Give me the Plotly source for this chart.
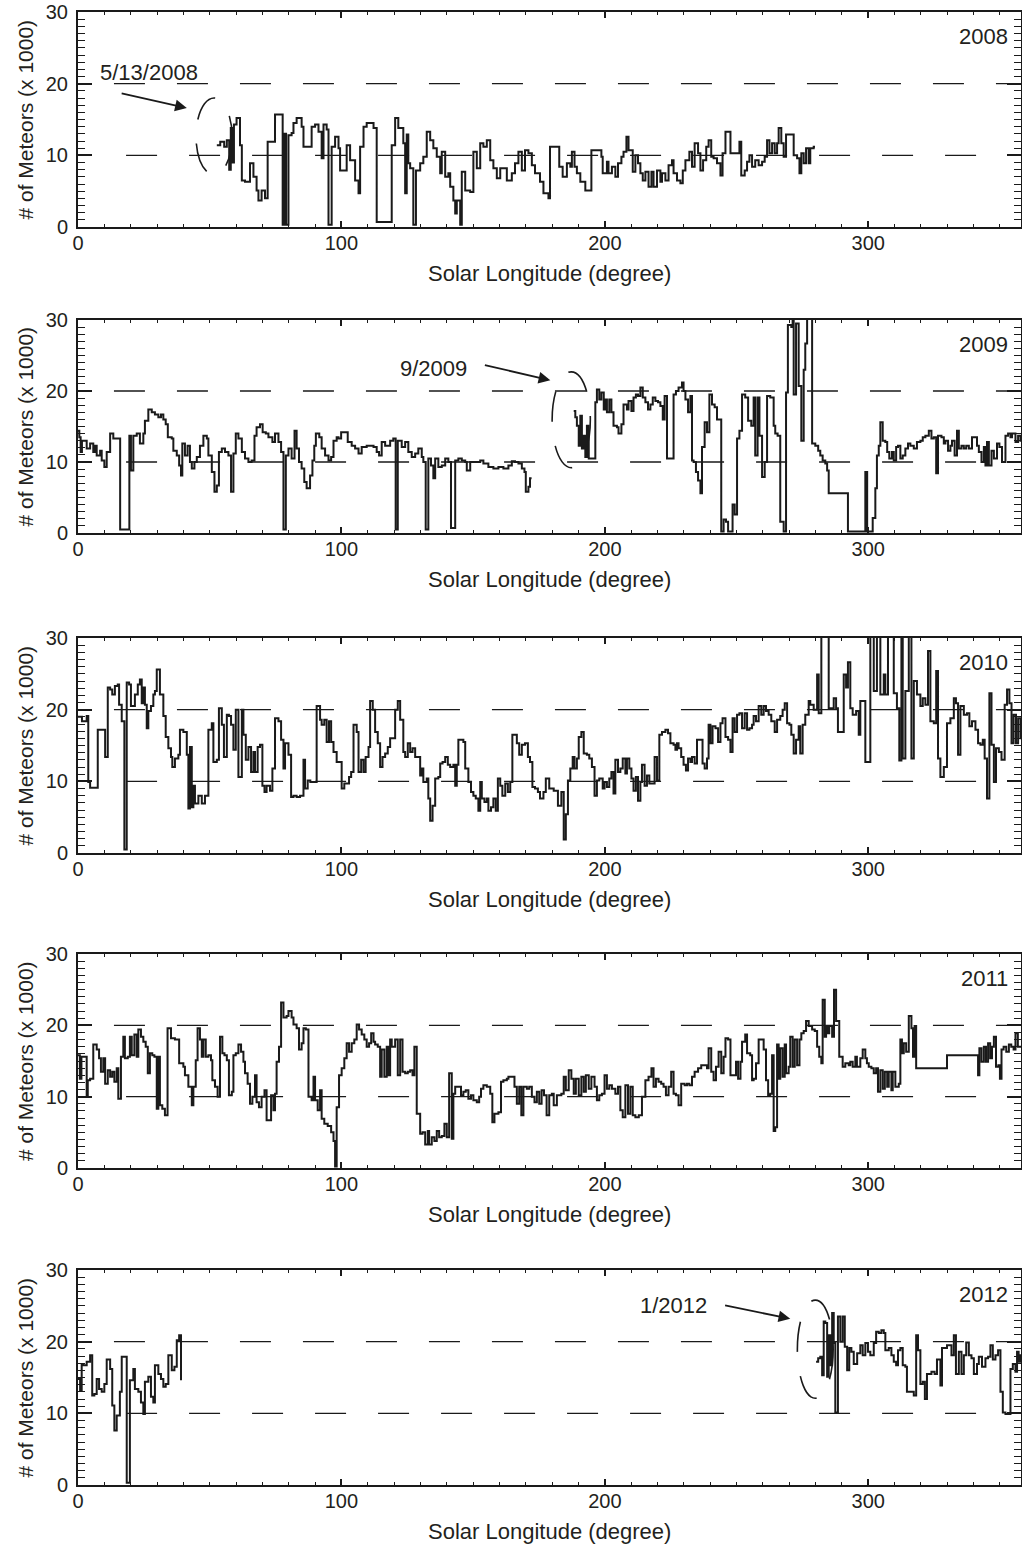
import plotly.graph_objects as go

# ---------------- data (solar longitude [deg], meteors x1000) ----------------
data_2008 = [
    (52.7, 11.4), (54.0, 11.9), (55.5, 11.2), (56.5, 12.1), (57.4, 8.0), (58.0, 13.8), (58.6, 9.0),
    (59.2, 14.3), (60.2, 15.2), (61.5, 11.4), (62.2, 6.5), (63.4, 6.3), (65.3, 8.9), (66.6, 7.0),
    (67.8, 5.1), (68.5, 3.7), (69.7, 5.1), (71.0, 4.0), (72.0, 11.9), (74.8, 15.7), (77.7, 0.3),
    (78.4, 13.0), (79.0, 0.3), (79.9, 12.8), (81.1, 13.1), (81.8, 14.5), (83.0, 15.2), (84.9, 14.0),
    (85.6, 11.2), (88.7, 14.0), (90.0, 14.3), (91.3, 13.3), (92.5, 9.6), (93.2, 14.3), (94.4, 13.6),
    (95.1, 0.3), (96.3, 11.2), (97.6, 12.6), (98.9, 11.0), (99.5, 7.9), (102.0, 11.4), (103.3, 9.3),
    (105.2, 6.5), (106.5, 4.7), (107.1, 11.2), (108.4, 14.0), (109.6, 14.5), (112.2, 13.8), (113.4, 0.7),
    (119.1, 11.4), (120.4, 15.2), (121.6, 13.8), (123.5, 11.7), (124.2, 4.7), (124.8, 12.9), (125.4, 8.9),
    (126.1, 8.2), (127.3, 0.3), (128.3, 7.9), (129.9, 8.9), (131.1, 9.8), (132.4, 13.3), (133.7, 12.1),
    (134.9, 11.0), (136.2, 9.8), (137.5, 7.5), (138.1, 10.5), (139.4, 7.0), (140.6, 7.5), (141.3, 5.6),
    (142.5, 3.7), (143.2, 1.9), (143.8, 3.7), (145.1, 0.3), (145.7, 7.7), (147.0, 5.1), (148.9, 4.9),
    (150.1, 10.5), (151.4, 8.2), (152.7, 11.7), (153.9, 11.2), (155.2, 12.1), (156.5, 9.3), (157.7, 8.2),
    (159.0, 6.8), (160.3, 8.2), (162.8, 6.5), (164.7, 7.5), (165.9, 8.9), (167.2, 10.5), (168.5, 7.9),
    (169.7, 10.7), (171.0, 10.3), (172.3, 8.6), (173.5, 7.5), (175.4, 6.3), (176.7, 4.7), (178.6, 4.0),
    (179.2, 11.2), (182.7, 8.4), (184.0, 7.0), (185.6, 8.9), (186.9, 8.4), (187.5, 10.5), (188.5, 8.4),
    (189.4, 7.5), (190.7, 6.3), (192.6, 5.1), (194.9, 10.7), (198.7, 9.8), (199.2, 7.5), (200.8, 9.1),
    (201.4, 7.5), (202.7, 8.4), (204.0, 7.0), (205.0, 8.9), (206.3, 9.8), (207.1, 10.5), (208.2, 12.6),
    (209.0, 10.7), (210.6, 7.7), (211.6, 10.0), (212.6, 8.9), (213.5, 7.5), (214.4, 6.5), (215.4, 7.7),
    (216.6, 5.6), (217.7, 7.7), (218.5, 5.6), (219.8, 7.9), (221.1, 6.3), (221.7, 7.5), (223.0, 6.5),
    (224.2, 8.6), (225.5, 9.3), (226.1, 7.5), (227.4, 6.5), (228.7, 6.1), (229.6, 7.9), (230.6, 9.3),
    (232.1, 10.5), (233.1, 8.4), (234.1, 11.7), (235.4, 10.3), (236.3, 7.9), (237.3, 9.3), (238.5, 11.2),
    (239.4, 12.1), (240.4, 9.8), (241.3, 9.6), (242.6, 8.9), (243.9, 7.2), (244.7, 10.3), (245.8, 13.3),
    (247.7, 10.3), (251.1, 11.9), (251.8, 7.2), (253.1, 7.9), (254.0, 9.1), (254.9, 10.0), (255.9, 8.4),
    (257.1, 9.3), (258.4, 8.6), (259.7, 9.1), (260.7, 9.8), (261.6, 12.1), (262.5, 10.3), (263.5, 11.7),
    (264.5, 10.3), (265.4, 11.7), (266.0, 13.8), (267.0, 11.7), (267.9, 9.8), (268.8, 12.9), (271.7, 10.0),
    (273.0, 9.6), (273.9, 7.5), (274.6, 10.3), (275.5, 8.9), (276.4, 11.0), (277.4, 8.9), (278.0, 11.0),
    (279.3, 11.2), (279.8, 11.2),
]

data_2009 = [
    (0.0, 14.4), (0.5, 13.5), (1.0, 11.4), (1.5, 13.0), (2.0, 13.0), (3.3, 11.9), (4.6, 12.6), (5.8, 11.4),
    (6.5, 12.3), (7.1, 10.9), (8.4, 11.6), (9.0, 10.2), (10.0, 9.3), (10.9, 11.4), (12.2, 14.0), (13.4, 13.3),
    (16.0, 0.5), (19.5, 13.7), (20.1, 8.8), (21.0, 13.7), (22.3, 14.0), (23.5, 12.6), (24.8, 14.0), (25.4, 15.8),
    (26.7, 17.4), (28.0, 17.0), (29.2, 16.7), (30.5, 16.3), (31.5, 16.7), (32.4, 16.0), (33.3, 15.3), (34.1, 13.5),
    (35.6, 13.3), (36.2, 11.6), (37.5, 10.9), (38.4, 9.5), (39.1, 8.1), (39.6, 12.6), (40.6, 10.9), (41.6, 12.3),
    (42.5, 10.0), (43.2, 9.1), (44.2, 10.0), (45.1, 10.7), (46.3, 12.3), (47.6, 13.7), (48.9, 13.3), (49.5, 10.9),
    (50.8, 8.6), (51.8, 5.8), (52.7, 6.7), (53.5, 11.4), (54.6, 11.9), (55.8, 11.4), (57.1, 10.9), (58.1, 5.8),
    (59.0, 11.2), (59.9, 14.0), (60.9, 13.3), (62.2, 11.4), (63.4, 10.5), (64.7, 10.0), (65.9, 10.2), (67.0, 13.7),
    (67.8, 14.9), (69.1, 15.3), (70.1, 14.2), (71.3, 14.0), (72.3, 13.5), (73.8, 12.8), (74.8, 14.0), (76.1, 12.8),
    (77.1, 11.4), (78.0, 0.5), (78.9, 10.9), (79.9, 11.9), (81.1, 10.5), (82.2, 14.4), (83.0, 11.9), (83.9, 10.0),
    (84.9, 9.1), (85.9, 7.2), (86.8, 6.3), (88.1, 8.1), (89.0, 10.2), (89.7, 12.3), (90.3, 14.0), (91.6, 13.5),
    (92.5, 11.9), (93.8, 10.9), (95.1, 10.2), (96.1, 10.7), (97.0, 13.0), (98.2, 13.5), (98.9, 13.3), (99.9, 14.2),
    (101.1, 14.2), (102.4, 12.8), (103.9, 12.3), (105.2, 11.9), (106.5, 11.2), (107.7, 12.1), (109.6, 12.3),
    (112.2, 12.1), (113.4, 11.4), (114.3, 10.9), (115.3, 12.8), (116.6, 12.3), (118.5, 13.0), (119.7, 13.3),
    (120.6, 0.5), (121.4, 13.0), (122.9, 12.1), (124.2, 12.8), (125.4, 11.4), (126.7, 10.7), (128.0, 11.2),
    (129.2, 11.9), (130.5, 10.7), (131.1, 10.0), (132.0, 0.5), (133.0, 10.5), (134.0, 9.5), (134.9, 7.7),
    (135.6, 10.5), (136.8, 9.3), (138.1, 9.5), (139.4, 10.5), (140.6, 10.0), (141.6, 0.7), (143.2, 10.2),
    (144.4, 10.5), (145.7, 10.2), (147.0, 10.0), (147.6, 8.8), (148.9, 10.0), (150.8, 10.0), (152.7, 10.2),
    (153.9, 9.8), (155.8, 9.3), (157.7, 9.1), (159.6, 9.3), (161.5, 9.1), (163.4, 9.5), (164.7, 10.1),
    (165.9, 10.0), (167.2, 9.8), (168.5, 9.1), (169.5, 8.6), (170.0, 5.8), (171.0, 6.5), (171.6, 7.7),
    (172.2, 7.7), (172.4, None),
    (188.2, 17.2), (188.8, 16.3), (189.4, 15.1), (190.1, 12.3), (190.7, 16.5), (191.3, 11.9), (192.0, 13.7),
    (192.6, 10.7), (193.2, 15.1), (193.9, 10.5), (196.4, 18.4), (197.0, 20.2), (197.9, 18.8), (198.7, 19.8),
    (199.6, 17.4), (200.2, 18.8), (200.8, 17.0), (201.7, 18.8), (202.5, 17.0), (203.3, 15.1), (204.6, 14.9),
    (205.2, 14.0), (206.3, 15.3), (207.1, 18.1), (208.4, 17.4), (209.0, 18.6), (210.1, 17.2), (210.9, 19.1),
    (211.8, 19.5), (212.6, 19.3), (213.5, 20.5), (214.4, 19.1), (215.4, 18.4), (216.4, 17.4), (217.3, 18.1),
    (218.2, 19.1), (219.2, 18.6), (220.2, 18.4), (221.1, 17.9), (222.0, 16.0), (222.7, 19.3), (223.6, 10.5),
    (226.1, 19.5), (227.0, 20.0), (228.0, 20.5), (229.3, 21.2), (229.9, 20.0), (230.6, 18.8), (231.6, 17.0),
    (232.5, 19.3), (233.1, 10.2), (233.7, 10.0), (234.6, 8.6), (235.4, 7.4), (236.3, 5.6), (236.9, 12.1),
    (237.9, 15.6), (238.8, 14.2), (239.7, 19.5), (240.7, 18.1), (241.7, 17.7), (242.6, 16.0), (244.2, 0.2),
    (245.1, 1.9), (246.0, 1.6), (246.8, 0.2), (248.5, 4.0), (249.3, 2.6), (250.2, 13.3), (251.1, 14.4),
    (252.1, 19.5), (253.3, 19.1), (254.4, 15.8), (255.6, 15.1), (256.5, 19.1), (257.1, 10.9), (258.0, 19.1),
    (258.7, 13.7), (259.7, 7.9), (260.7, 10.0), (261.6, 19.3), (262.8, 19.1), (264.1, 15.1), (264.7, 14.0),
    (265.6, 13.7), (266.6, 1.6), (267.9, 0.2), (268.8, 19.8), (269.5, 29.3), (270.8, 29.0), (271.3, 31.0),
    (271.7, 19.5), (272.6, 29.5), (273.6, 20.7), (274.6, 13.0), (275.5, 23.0), (276.1, 26.7), (276.8, 31.0),
    (278.7, 12.6), (279.9, 12.3), (281.0, 11.6), (281.8, 10.9), (282.7, 10.2), (283.7, 9.8), (284.4, 8.8),
    (285.0, 5.6), (292.3, 0.2), (298.9, 8.6), (299.6, 0.2), (301.7, 2.1), (302.7, 6.3), (303.3, 10.9),
    (304.0, 12.3), (304.6, 15.6), (305.5, 13.0), (306.5, 12.8), (307.2, 11.4), (308.0, 10.5), (309.0, 11.4),
    (309.7, 10.2), (310.6, 12.1), (311.3, 12.3), (312.2, 10.5), (313.1, 10.9), (314.1, 11.9), (315.1, 12.6),
    (316.0, 12.3), (317.3, 11.9), (318.5, 12.8), (319.8, 13.0), (320.7, 13.5), (321.7, 13.7), (323.0, 14.4),
    (324.0, 13.3), (324.9, 13.5), (325.8, 8.4), (326.5, 13.7), (327.8, 13.5), (328.7, 12.6), (329.3, 13.0),
    (330.3, 11.6), (331.2, 12.3), (331.8, 13.0), (332.8, 10.9), (333.7, 14.4), (334.4, 11.9), (335.4, 12.3),
    (336.3, 11.9), (337.2, 12.3), (338.2, 11.9), (339.4, 13.5), (340.4, 13.5), (341.3, 12.3), (342.0, 11.4),
    (343.0, 10.0), (343.9, 12.1), (344.5, 9.5), (345.1, 12.8), (345.8, 9.5), (346.8, 11.6), (347.7, 10.5),
    (348.9, 12.6), (349.8, 12.1), (350.8, 10.0), (352.1, 13.7), (353.1, 14.0), (354.0, 13.5), (354.6, 14.0),
    (355.9, 12.8), (356.9, 13.7), (357.8, 13.0), (360.0, 13.0),
]

data_2010 = [
    (0.0, 19.0), (1.5, 18.4), (3.3, 19.1), (3.9, 9.9), (4.6, 9.1), (7.5, 17.2), (10.3, 13.4), (11.3, 23.1),
    (12.2, 22.8), (13.0, 22.1), (14.0, 23.3), (15.1, 23.5), (15.6, 20.7), (16.6, 18.4), (17.6, 0.5), (18.5, 23.8),
    (19.4, 23.5), (20.1, 20.5), (21.6, 22.1), (22.7, 23.5), (23.5, 24.2), (24.2, 20.9), (24.8, 23.1), (25.4, 20.7),
    (26.1, 17.4), (26.7, 19.8), (27.7, 20.5), (28.6, 22.1), (29.2, 22.6), (29.9, 25.6), (31.1, 22.1), (32.4, 19.1),
    (33.3, 16.2), (34.3, 14.6), (35.3, 13.4), (35.8, 12.0), (36.8, 13.2), (38.1, 13.7), (38.7, 17.2), (40.0, 16.9),
    (41.3, 13.7), (41.9, 6.2), (42.5, 14.8), (43.2, 6.4), (43.8, 9.4), (44.4, 6.9), (45.7, 8.0), (47.0, 6.9),
    (48.2, 8.0), (49.5, 17.2), (50.8, 18.1), (51.4, 12.7), (52.7, 13.0), (53.5, 20.2), (54.6, 17.9), (55.4, 13.4),
    (56.5, 19.3), (57.3, 19.1), (58.1, 17.9), (59.0, 14.4), (59.9, 20.0), (60.9, 10.6), (62.2, 20.0), (62.8, 16.5),
    (63.7, 13.0), (64.7, 14.8), (65.7, 11.3), (66.6, 14.1), (67.2, 11.3), (68.2, 14.8), (69.1, 15.1), (70.0, 9.4),
    (70.8, 8.5), (71.6, 9.4), (72.9, 8.7), (73.8, 11.8), (74.8, 18.8), (76.1, 18.4), (77.1, 15.8), (78.0, 11.8),
    (78.6, 15.3), (79.9, 13.7), (80.9, 7.8), (81.8, 8.0), (83.0, 7.8), (84.3, 8.0), (85.6, 13.0), (86.2, 9.0),
    (87.2, 10.1), (88.2, 9.9), (90.6, 20.5), (91.9, 18.6), (92.5, 17.9), (93.5, 18.6), (94.4, 15.5), (95.3, 18.4),
    (96.1, 15.5), (97.0, 14.1), (98.2, 12.7), (100.1, 9.0), (101.1, 9.7), (102.9, 10.6), (103.7, 11.3),
    (104.6, 17.9), (105.8, 16.9), (106.5, 11.3), (107.5, 13.0), (108.4, 11.3), (109.2, 13.4), (110.3, 14.8),
    (110.9, 21.2), (111.9, 20.0), (112.8, 16.9), (113.8, 15.3), (114.7, 12.0), (115.6, 13.4), (116.6, 13.9),
    (117.6, 14.8), (118.5, 16.0), (120.4, 20.0), (121.4, 21.2), (122.3, 18.6), (123.5, 14.1), (124.2, 13.4),
    (125.2, 15.3), (126.1, 14.1), (127.0, 14.6), (128.0, 13.4), (129.9, 10.8), (130.5, 11.8), (131.1, 9.9),
    (132.4, 10.4), (133.0, 7.6), (133.7, 4.5), (134.6, 6.6), (135.6, 10.4), (136.8, 10.6), (137.5, 12.5),
    (138.4, 12.7), (139.4, 13.4), (140.4, 12.3), (141.3, 12.0), (142.5, 12.3), (143.2, 9.4), (143.8, 12.3),
    (144.4, 15.8), (146.3, 15.5), (147.0, 11.8), (148.2, 9.9), (149.2, 8.5), (150.1, 8.0), (151.0, 7.6),
    (152.0, 5.9), (152.7, 9.9), (153.3, 7.6), (154.3, 7.1), (155.2, 7.6), (155.8, 5.9), (156.8, 6.4),
    (157.7, 7.6), (158.6, 5.9), (159.4, 10.4), (160.3, 9.4), (161.1, 8.0), (162.2, 9.7), (163.2, 8.5),
    (164.1, 9.9), (164.9, 16.5), (166.6, 15.3), (167.5, 13.7), (168.5, 15.1), (169.7, 15.3), (170.8, 13.4),
    (171.6, 12.7), (172.5, 9.2), (173.5, 9.0), (174.6, 8.5), (175.4, 7.6), (176.7, 8.5), (177.6, 10.4),
    (178.9, 9.0), (180.6, 8.7), (182.2, 6.6), (183.5, 8.5), (184.4, 1.9), (185.2, 5.4), (186.0, 10.1),
    (186.9, 11.8), (187.8, 13.4), (188.5, 11.8), (189.4, 13.2), (190.1, 16.2), (191.1, 16.9), (192.0, 13.9),
    (193.2, 13.7), (194.1, 13.2), (195.1, 12.0), (196.1, 8.0), (197.0, 10.1), (197.9, 10.4), (199.2, 9.0),
    (199.9, 9.9), (200.8, 9.2), (201.7, 10.4), (202.5, 11.3), (203.3, 8.3), (204.0, 13.0), (205.0, 11.3),
    (205.9, 11.8), (206.8, 13.2), (207.8, 11.1), (208.4, 13.2), (209.3, 11.8), (210.1, 10.4), (210.9, 8.7),
    (211.8, 10.6), (212.6, 7.3), (213.5, 9.9), (214.1, 12.3), (215.1, 9.4), (216.0, 10.8), (216.9, 9.7),
    (217.9, 9.7), (218.9, 13.4), (219.8, 10.1), (220.7, 16.5), (221.7, 16.9), (223.0, 17.2), (224.0, 16.7),
    (224.9, 15.3), (226.1, 15.1), (226.8, 14.4), (227.4, 15.3), (228.0, 14.6), (229.0, 13.4), (229.9, 12.3),
    (230.8, 11.5), (231.6, 13.2), (232.5, 12.7), (233.1, 13.4), (234.1, 12.5), (235.0, 15.8), (236.3, 15.8),
    (237.1, 12.5), (237.9, 11.8), (238.8, 13.2), (239.4, 17.9), (240.1, 15.3), (240.9, 17.7), (242.0, 17.4),
    (243.0, 15.5), (243.9, 18.1), (244.7, 18.8), (245.8, 16.2), (246.8, 15.8), (247.7, 14.1), (248.5, 18.8),
    (249.3, 16.9), (250.2, 19.3), (251.1, 19.5), (252.1, 17.4), (253.1, 19.5), (254.0, 17.2), (254.9, 17.4),
    (255.9, 17.9), (256.5, 19.1), (257.4, 18.4), (258.4, 20.5), (259.4, 19.3), (260.3, 20.5), (261.2, 19.8),
    (262.2, 19.3), (263.2, 18.4), (264.5, 16.9), (265.4, 18.6), (266.6, 19.1), (267.5, 20.0), (268.3, 20.9),
    (269.2, 18.1), (270.1, 17.9), (270.8, 16.5), (271.7, 13.9), (272.6, 15.8), (273.6, 17.7), (274.2, 13.9),
    (275.1, 17.9), (276.1, 19.3), (277.4, 21.2), (278.0, 20.7), (279.3, 20.0), (280.6, 24.9), (281.2, 19.5),
    (282.2, 31.0), (283.7, 31.0), (285.0, 20.2), (286.9, 21.6), (287.8, 20.2), (288.5, 16.9), (290.1, 16.9),
    (290.7, 24.9), (291.6, 23.1), (292.3, 26.6), (293.2, 20.2), (294.1, 19.3), (295.4, 19.8), (296.4, 16.5),
    (297.0, 21.2), (298.3, 21.2), (298.9, 12.7), (299.9, 12.7), (300.8, 31.0), (302.1, 22.6), (303.3, 31.0),
    (304.6, 22.1), (305.9, 24.9), (306.5, 22.1), (307.5, 31.0), (309.0, 31.0), (309.7, 22.3), (310.9, 20.2),
    (311.8, 12.9), (312.6, 31.0), (313.1, 13.2), (314.1, 22.6), (315.4, 31.0), (316.4, 13.2), (317.3, 24.0),
    (318.5, 22.1), (319.8, 20.5), (320.7, 21.6), (321.7, 20.7), (322.7, 28.2), (323.6, 18.4), (324.9, 18.1),
    (325.8, 25.4), (326.5, 13.2), (327.4, 10.6), (328.7, 12.0), (329.9, 18.1), (331.2, 18.8), (332.5, 21.6),
    (333.3, 20.9), (334.1, 13.7), (335.0, 20.5), (336.3, 19.3), (337.5, 19.5), (338.4, 17.7), (339.4, 18.4),
    (340.7, 17.2), (341.7, 15.3), (342.6, 15.1), (343.5, 15.8), (344.2, 13.2), (345.1, 7.6), (346.0, 22.3),
    (346.8, 15.1), (347.7, 9.9), (348.5, 14.6), (349.6, 14.1), (350.6, 13.0), (351.8, 20.7), (352.7, 22.8),
    (353.6, 20.9), (354.4, 15.3), (355.2, 19.3), (356.1, 15.3), (356.9, 18.8), (357.8, 16.0), (360.0, 16.0),
]

data_2011 = [
    (0.0, 15.8), (0.7, 12.5), (1.3, 15.6), (2.0, 15.6), (3.3, 10.0), (3.7, 12.3), (4.6, 12.5), (5.8, 17.3),
    (7.1, 16.6), (8.0, 15.4), (8.7, 13.5), (9.6, 15.4), (10.3, 11.8), (11.3, 13.7), (12.2, 12.8), (13.0, 13.5),
    (13.8, 12.1), (14.7, 14.0), (15.3, 9.7), (16.3, 15.6), (17.2, 18.4), (17.8, 15.4), (18.9, 15.6), (19.7, 18.4),
    (20.4, 15.8), (21.4, 18.7), (22.3, 15.6), (22.9, 19.4), (23.9, 18.4), (24.8, 17.7), (25.7, 17.0), (26.5, 13.3),
    (27.3, 16.1), (28.2, 15.8), (29.0, 15.6), (29.9, 8.3), (30.5, 15.6), (31.1, 8.8), (32.0, 8.3), (33.0, 7.4),
    (34.0, 19.6), (35.3, 18.2), (36.8, 18.0), (38.4, 14.7), (40.0, 14.2), (40.6, 13.0), (41.9, 11.4), (43.2, 8.8),
    (43.8, 11.4), (44.7, 15.1), (45.4, 19.6), (46.3, 18.0), (47.0, 15.6), (47.6, 18.0), (48.5, 15.6), (49.5, 15.8),
    (50.5, 15.1), (51.0, 12.3), (52.0, 11.4), (53.0, 10.0), (53.9, 18.4), (54.8, 16.1), (55.6, 15.8), (56.5, 15.1),
    (57.3, 10.2), (58.4, 10.7), (59.0, 15.8), (59.9, 16.1), (60.9, 17.3), (61.9, 16.3), (62.8, 14.9), (63.4, 13.3),
    (64.4, 11.8), (65.3, 9.0), (66.2, 10.0), (67.2, 13.0), (67.8, 9.2), (68.7, 8.5), (69.7, 10.0), (70.8, 10.9),
    (71.6, 6.7), (73.3, 10.2), (74.2, 8.1), (74.8, 10.4), (75.4, 14.9), (76.3, 17.0), (77.1, 23.2), (78.0, 21.1),
    (79.2, 21.3), (79.9, 22.0), (81.1, 21.1), (81.8, 20.1), (83.0, 19.6), (83.9, 16.6), (84.9, 17.5), (85.6, 19.6),
    (86.5, 19.4), (87.5, 10.0), (88.7, 9.5), (89.4, 12.8), (90.0, 9.5), (91.0, 8.1), (91.9, 10.9), (92.5, 6.9),
    (93.5, 6.2), (94.8, 5.9), (96.1, 5.0), (97.0, 3.8), (97.6, 0.2), (98.2, 8.5), (99.1, 13.0), (100.1, 14.0),
    (101.1, 15.4), (102.0, 17.5), (102.9, 16.3), (103.9, 17.5), (104.9, 18.0), (105.8, 20.1), (106.7, 19.4),
    (107.7, 18.7), (108.7, 18.0), (109.6, 17.0), (110.5, 17.5), (111.3, 18.9), (112.2, 17.7), (112.8, 17.3),
    (113.8, 17.0), (114.7, 12.8), (115.3, 16.6), (116.3, 12.8), (117.2, 17.0), (117.8, 13.0), (118.5, 18.0),
    (119.1, 17.0), (120.4, 18.0), (121.4, 13.0), (122.3, 18.0), (123.2, 13.5), (124.2, 13.3), (125.2, 13.5),
    (126.1, 13.7), (127.0, 13.0), (127.7, 17.0), (128.6, 7.6), (129.9, 4.8), (130.8, 5.0), (131.8, 3.3),
    (132.8, 5.2), (133.3, 3.3), (134.3, 4.3), (135.3, 3.8), (136.2, 5.2), (137.1, 4.3), (138.1, 4.5),
    (139.1, 6.2), (140.0, 4.3), (140.9, 13.3), (141.9, 4.1), (142.5, 10.4), (143.2, 11.4), (144.4, 11.4),
    (145.4, 10.2), (146.3, 10.7), (147.2, 10.9), (148.2, 9.7), (149.2, 10.2), (150.1, 9.5), (151.4, 9.2),
    (152.3, 10.0), (153.0, 11.1), (153.9, 11.6), (155.2, 11.4), (156.5, 10.4), (157.3, 6.4), (158.1, 7.6),
    (159.0, 7.6), (159.6, 7.8), (160.6, 12.1), (161.5, 12.3), (162.8, 12.5), (163.4, 12.8), (164.7, 12.8),
    (165.7, 11.4), (166.6, 9.0), (167.5, 11.4), (168.3, 7.4), (169.1, 11.4), (170.4, 11.1), (171.3, 11.4),
    (172.3, 10.0), (173.3, 9.2), (174.2, 10.7), (175.1, 9.0), (176.0, 10.9), (176.9, 10.2), (177.9, 7.4),
    (178.9, 10.2), (179.9, 10.4), (180.6, 8.8), (181.8, 10.2), (183.5, 10.4), (184.4, 12.8), (185.2, 10.9),
    (186.3, 13.7), (187.3, 12.5), (188.2, 10.4), (189.0, 12.5), (190.1, 10.2), (191.1, 12.8), (192.0, 10.7),
    (192.8, 13.0), (193.9, 11.1), (194.9, 12.8), (196.1, 11.4), (197.0, 9.5), (197.9, 10.2), (198.9, 10.4),
    (199.9, 13.0), (200.8, 11.1), (201.7, 11.6), (202.7, 11.1), (204.0, 10.4), (205.0, 11.4), (205.9, 8.1),
    (206.8, 7.1), (207.8, 11.6), (208.8, 7.6), (209.7, 11.4), (210.6, 7.4), (211.6, 7.1), (212.9, 7.4),
    (214.1, 10.0), (215.4, 12.3), (216.6, 12.8), (217.7, 14.0), (218.5, 11.4), (219.4, 12.5), (220.4, 12.1),
    (221.4, 11.8), (222.3, 11.4), (223.2, 10.2), (224.2, 11.4), (225.2, 13.5), (226.1, 10.4), (227.0, 10.2),
    (228.0, 8.8), (229.0, 11.8), (230.3, 11.6), (231.2, 11.8), (232.1, 11.6), (233.1, 12.8), (234.1, 13.5),
    (235.4, 14.0), (236.6, 14.4), (237.9, 14.4), (238.8, 14.0), (239.4, 16.8), (240.4, 13.5), (241.3, 12.3),
    (242.2, 14.2), (243.2, 16.3), (244.2, 13.3), (245.1, 15.6), (245.8, 18.2), (246.8, 18.0), (247.7, 13.0),
    (248.5, 13.0), (249.8, 14.9), (250.6, 12.5), (251.5, 14.9), (252.1, 17.7), (253.3, 18.7), (254.0, 16.1),
    (255.2, 15.8), (255.9, 12.3), (256.5, 12.5), (257.4, 14.7), (258.4, 18.0), (259.4, 18.0), (260.3, 16.6),
    (261.2, 12.3), (262.0, 10.2), (262.8, 10.4), (263.5, 15.8), (264.1, 5.2), (264.7, 5.7), (265.4, 17.3),
    (266.0, 12.5), (266.6, 16.8), (267.5, 12.8), (268.3, 17.3), (268.8, 13.3), (269.8, 14.2), (270.4, 18.4),
    (271.3, 14.2), (272.1, 18.0), (273.0, 14.4), (273.9, 18.0), (274.6, 18.9), (275.5, 19.2), (276.4, 20.6),
    (277.4, 19.9), (278.7, 19.4), (279.7, 19.2), (280.6, 17.0), (281.4, 15.6), (282.2, 14.7), (282.7, 23.6),
    (283.5, 18.4), (284.0, 19.9), (284.7, 18.9), (285.2, 19.9), (286.3, 18.4), (287.0, 25.0), (287.8, 20.6),
    (288.5, 20.6), (289.0, 15.6), (290.3, 14.2), (291.3, 14.7), (292.6, 14.4), (293.2, 14.9), (294.1, 14.2),
    (295.1, 15.6), (295.7, 14.2), (297.0, 15.4), (297.9, 16.6), (298.9, 15.4), (299.5, 14.7), (300.2, 14.2),
    (301.2, 14.0), (302.1, 13.3), (303.0, 14.0), (303.7, 10.7), (304.6, 13.7), (305.5, 11.1), (306.3, 13.5),
    (307.2, 11.4), (307.8, 13.5), (308.8, 10.9), (309.3, 13.5), (310.3, 11.4), (311.6, 11.8), (312.2, 18.0),
    (312.8, 16.1), (313.5, 17.5), (314.4, 16.3), (315.4, 21.3), (316.4, 19.6), (317.0, 15.6), (317.6, 19.9),
    (318.2, 14.0), (329.9, 15.8), (341.7, 13.0), (342.2, 16.8), (343.0, 14.9), (343.9, 17.0), (344.7, 14.9),
    (345.5, 17.5), (346.3, 15.4), (347.0, 17.0), (347.7, 18.4), (348.5, 14.2), (349.4, 14.4), (350.0, 12.5),
    (350.6, 16.6), (351.4, 17.0), (352.4, 16.3), (353.4, 17.3), (354.3, 17.0), (355.2, 16.6), (355.9, 18.9),
    (356.8, 17.0), (360.0, 17.0),
]

data_2012 = [
    (0.0, 14.8), (0.8, 13.2), (1.4, 16.9), (2.0, 16.7), (3.3, 17.2), (4.6, 18.1), (5.4, 12.5), (6.2, 12.7),
    (7.1, 14.8), (8.0, 13.4), (9.0, 13.0), (10.0, 14.1), (10.9, 17.5), (12.2, 16.2), (13.0, 11.1), (13.8, 7.6),
    (14.7, 9.7), (15.9, 13.0), (16.6, 17.9), (18.5, 0.3), (19.1, 0.3), (19.7, 14.6), (21.0, 16.2), (21.6, 13.4),
    (22.9, 13.0), (23.9, 11.5), (24.8, 9.9), (25.4, 14.4), (26.7, 15.1), (27.7, 12.3), (28.6, 11.5), (29.2, 16.7),
    (30.5, 15.5), (31.5, 14.8), (32.4, 13.7), (33.3, 14.1), (34.3, 18.1), (35.6, 16.0), (36.6, 16.5),
    (37.5, 20.2), (38.4, 20.9), (39.1, 14.6), (39.3, None),
    (280.2, 17.2), (281.0, 17.7), (281.8, 17.9), (282.5, 15.3), (283.1, 22.8), (283.7, 22.6), (284.4, 15.1),
    (285.0, 20.9), (285.6, 16.7), (286.3, 24.0), (286.9, 19.8), (287.5, 10.1), (288.5, 23.5), (289.4, 20.0),
    (290.3, 23.5), (291.1, 19.3), (292.0, 16.0), (292.8, 19.1), (293.6, 18.6), (294.5, 16.9), (295.8, 18.4),
    (297.0, 19.5), (297.9, 18.1), (298.9, 19.8), (299.9, 18.6), (300.8, 18.1), (302.1, 19.8), (303.0, 21.4),
    (304.0, 21.2), (305.0, 21.6), (305.9, 21.2), (306.5, 18.8), (307.8, 19.1), (308.8, 18.1), (309.7, 17.2),
    (310.6, 16.7), (311.3, 18.8), (312.2, 19.1), (313.1, 16.7), (314.1, 16.5), (314.7, 13.0), (316.0, 13.0),
    (317.3, 12.5), (318.2, 20.9), (318.9, 18.8), (319.8, 14.1), (320.7, 14.4), (321.5, 12.0), (322.3, 15.5),
    (324.0, 15.8), (325.2, 15.5), (326.1, 17.5), (327.4, 13.9), (328.0, 19.1), (329.0, 19.1), (329.9, 19.5),
    (330.8, 19.5), (331.6, 18.1), (332.5, 20.9), (333.3, 15.5), (334.4, 18.6), (335.4, 15.5), (336.3, 18.1),
    (337.2, 19.9), (338.2, 18.1), (339.2, 17.7), (340.1, 15.5), (341.3, 16.9), (342.0, 17.9), (343.2, 16.5),
    (344.5, 17.7), (345.5, 17.9), (346.4, 19.5), (347.3, 17.5), (348.3, 18.1), (349.3, 18.8), (350.2, 13.0),
    (351.1, 10.1), (352.1, 9.9), (354.0, 16.2), (354.9, 16.9), (355.9, 15.8), (356.5, 18.6), (357.1, 17.2),
    (357.8, 18.1), (360.0, 18.1),
]

years = ["2008", "2009", "2010", "2011", "2012"]
series = [data_2008, data_2009, data_2010, data_2011, data_2012]
x_ticks = [0, 100, 200, 300]
y_ticks = [0, 10, 20, 30]
ref_levels = [10, 20]

# annotation content: (panel index, label, text pos, arrow tail, arrow head, ellipse box)
notes = [
    (0, "5/13/2008", (26.9, 21.6), (16.0, 18.7), (41.3, 16.6), (44.8, 7.3, 58.5, 18.0)),
    (1, "9/2009", (135.0, 23.2), (153.9, 23.7), (179.3, 21.5), (180.0, 9.2, 194.5, 22.7)),
    (4, "1/2012", (226.2, 25.0), (245.1, 25.1), (270.4, 23.2), (273.1, 12.1, 286.7, 25.8)),
]

# ---------------- layout ----------------
W, H = 1022, 1545
FONT = "Liberation Sans, Arial, Helvetica, sans-serif"
TXT = "#231f20"
BLK = "#1a1a1a"
panels_px = [(12, 227), (320, 533), (638, 853), (954, 1168), (1270, 1485)]
X_LEFT, X_RIGHT = 78, 1021

fig = go.Figure()
layout = dict(
    width=W, height=H, margin=dict(l=0, r=0, t=0, b=0, autoexpand=False),
    paper_bgcolor="white", plot_bgcolor="white", showlegend=False,
    font=dict(family=FONT, color=TXT, size=20),
)
shapes, annotations = [], []

for i, (yr, dat) in enumerate(zip(years, series)):
    n = "" if i == 0 else str(i + 1)
    top, bot = panels_px[i]
    xs = [p[0] for p in dat]
    ys = [p[1] for p in dat]
    fig.add_trace(go.Scatter(
        x=xs, y=ys, mode="lines", line=dict(color=BLK, width=2.0, shape="hv"),
        connectgaps=False, xaxis="x" + n, yaxis="y" + n, hoverinfo="skip",
    ))
    layout["xaxis" + n] = dict(
        domain=[X_LEFT / W, X_RIGHT / W], range=[0, 358], anchor="y" + n,
        tickvals=x_ticks, ticks="inside", ticklen=6, tickwidth=1.5, tickcolor=BLK,
        minor=dict(dtick=10, tick0=0, ticks="inside", ticklen=3, tickwidth=1.2, tickcolor=BLK),
        showline=True, linewidth=2, linecolor=BLK, mirror="ticks",
        showgrid=False, zeroline=False, ticklabelstandoff=-3, automargin=False,
        tickfont=dict(size=20, family=FONT, color=TXT),
    )
    layout["yaxis" + n] = dict(
        domain=[1 - bot / H, 1 - top / H], range=[0, 30], anchor="x" + n,
        tickvals=y_ticks, ticks="inside", ticklen=14, tickwidth=1.5, tickcolor=BLK,
        minor=dict(dtick=1, tick0=0, ticks="inside", ticklen=7, tickwidth=1.2, tickcolor=BLK),
        showline=True, linewidth=2, linecolor=BLK, mirror="ticks",
        showgrid=False, zeroline=False, ticklabelstandoff=4, automargin=False,
        tickfont=dict(size=20, family=FONT, color=TXT),
    )
    # dashed reference levels
    for lev, x0 in zip(ref_levels, [6.1, 1.5]):
        shapes.append(dict(type="line", xref="x" + n, yref="y" + n, x0=x0, x1=358, y0=lev, y1=lev,
                           line=dict(color=BLK, width=1.3, dash="0px,32px,31px,0px"), layer="below"))
    # year label
    annotations.append(dict(text=yr, xref="x" + n + " domain", yref="y" + n + " domain",
                            x=(1010 - X_LEFT) / (X_RIGHT - X_LEFT), y=1 - 24.5 / (bot - top),
                            xanchor="right", yanchor="middle", showarrow=False,
                            font=dict(size=22, family=FONT, color=TXT)))
    # axis titles
    annotations.append(dict(text="Solar Longitude (degree)", xref="x" + n + " domain", yref="paper",
                            x=0.5, y=1 - (bot + 46) / H, xanchor="center", yanchor="middle",
                            showarrow=False, font=dict(size=22, family=FONT, color=TXT)))
    annotations.append(dict(text="# of Meteors (x 1000)", xref="paper", yref="y" + n + " domain",
                            x=25 / W, y=0.5, xanchor="center", yanchor="middle", textangle=-90,
                            showarrow=False, font=dict(size=21, family=FONT, color=TXT)))

for (pi, label, tpos, tail, head, box) in notes:
    n = "" if pi == 0 else str(pi + 1)
    annotations.append(dict(text=label, xref="x" + n, yref="y" + n, x=tpos[0], y=tpos[1],
                            xanchor="center", yanchor="middle", showarrow=False,
                            font=dict(size=22, family=FONT, color=TXT)))
    annotations.append(dict(text="", xref="x" + n, yref="y" + n, x=head[0], y=head[1],
                            axref="x" + n, ayref="y" + n, ax=tail[0], ay=tail[1],
                            showarrow=True, arrowhead=2, arrowsize=1.3, arrowwidth=1.8,
                            arrowcolor=BLK, standoff=0))
    shapes.append(dict(type="circle", xref="x" + n, yref="y" + n,
                       x0=box[0], y0=box[1], x1=box[2], y1=box[3],
                       line=dict(color=BLK, width=1.6, dash="30px,24px")))

layout["shapes"] = shapes
layout["annotations"] = annotations
fig.update_layout(**layout)
fig.write_html(
    "out.html",
    config={"responsive": False, "displayModeBar": False},
    post_script=(
        "document.documentElement.style.margin='0';document.documentElement.style.padding='0';"
        "document.body.style.margin='0';document.body.style.padding='0';"
        "document.documentElement.style.overflow='hidden';document.body.style.overflow='hidden';"
    ),
)
